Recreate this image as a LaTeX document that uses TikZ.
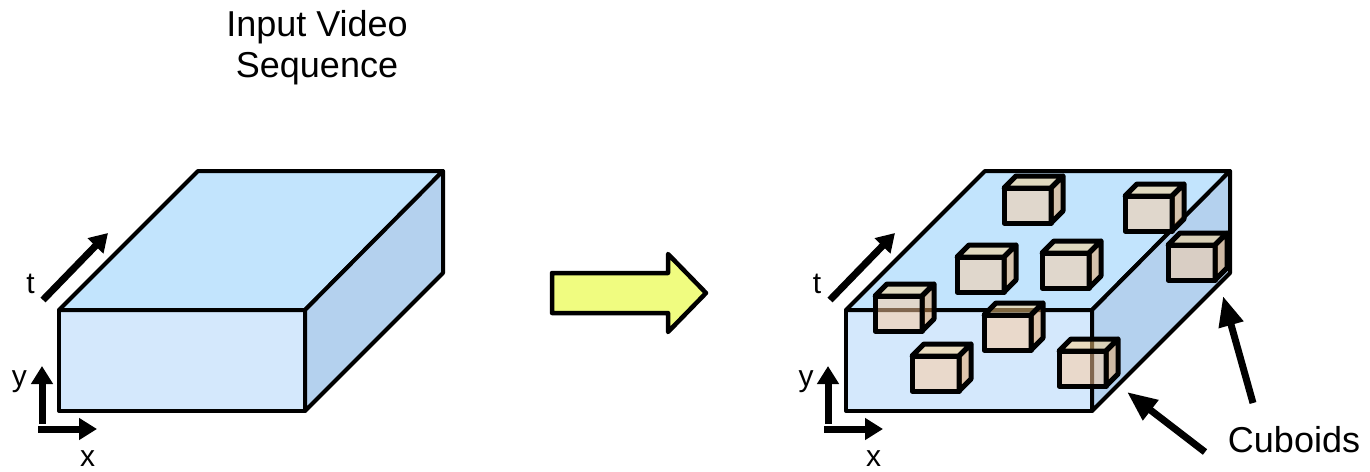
\documentclass[tikz,border=0pt]{standalone}
\usepackage{fontspec}
\setmainfont{Liberation Sans}
\usetikzlibrary{arrows.meta}

\definecolor{topblue}{RGB}{194,228,253}
\definecolor{frontblue}{RGB}{212,232,252}
\definecolor{sideblue}{RGB}{180,209,238}
\definecolor{arrowyellow}{RGB}{240,252,128}
\definecolor{cubefront}{RGB}{255,204,156}
\definecolor{cubetop}{RGB}{255,208,130}
\definecolor{cubeside}{RGB}{232,162,92}

\tikzset{
  face/.style={draw=black, line width=4pt, line join=round},
  axisarrow/.style={line width=7pt, -{Triangle[length=18pt,width=21pt]}},
  calloutarrow/.style={line width=7pt, -{Triangle[length=30pt,width=24pt]}},
  axislabel/.style={inner sep=0pt, font=\fontsize{30pt}{36pt}\selectfont},
  title/.style={inner sep=0pt, align=center, font=\fontsize{36pt}{41pt}\selectfont},
  cubeface/.style={draw=black, line width=5pt, line join=round, fill opacity=0.5},
  pics/cuboid/.style={code={
    % front face, top face and right face of a small cuboid
    \path[cubeface, fill=cubefront] (0,0) rectangle (47,35);
    \path[cubeface, fill=cubetop] (0,0) -- (12,-12) -- (59,-12) -- (47,0) -- cycle;
    \path[cubeface, fill=cubeside] (47,0) -- (59,-12) -- (59,23) -- (47,35) -- cycle;
  }}
}

\begin{document}
\begin{tikzpicture}[x=1pt, y=-1pt]
\path[use as bounding box] (0,0) rectangle (1370,471);

% ---------- input video volume ----------
\path[face, fill=frontblue] (59,310) rectangle (305,411);
\path[face, fill=topblue] (59,310) -- (198,171) -- (443,171) -- (305,310) -- cycle;
\path[face, fill=sideblue] (305,310) -- (443,171) -- (443,273) -- (305,411) -- cycle;

\node[title, anchor=base] (inputlabel) at (317,77) {Input Video\\Sequence};

% axes of the input volume
\coordinate (tA0) at (43,300);   \coordinate (tA1) at (108,233);
\coordinate (yA0) at (42,424);   \coordinate (yA1) at (42,366);
\coordinate (xA0) at (38,429);   \coordinate (xA1) at (97,429);
\draw[axisarrow] (tA0) -- (tA1);
\draw[axisarrow] (yA0) -- (yA1);
\draw[axisarrow] (xA0) -- (xA1);
\node[axislabel] (tlabA) at (30.5,284) {t};
\node[axislabel] (ylabA) at (19.5,382) {y};
\node[axislabel] (xlabA) at (87.5,459) {x};

% ---------- transition arrow ----------
\path[draw=black, line width=4.5pt, line join=round, fill=arrowyellow]
  (552,273) -- (668,273) -- (668,254) -- (706,293) -- (668,332) -- (668,313) -- (552,313) -- cycle;

% ---------- volume with cuboids ----------
\path[face, fill=frontblue] (846,310) rectangle (1092,411);
\path[face, fill=topblue] (846,310) -- (985,171) -- (1230,171) -- (1092,310) -- cycle;
\path[face, fill=sideblue] (1092,310) -- (1230,171) -- (1230,273) -- (1092,411) -- cycle;

\pic at (1004,188) {cuboid};
\pic at (1125,196) {cuboid};
\pic at (957,257) {cuboid};
\pic at (1042,253) {cuboid};
\pic at (1168,245) {cuboid};
\pic at (875,296) {cuboid};
\pic at (984,315) {cuboid};
\pic at (912,356) {cuboid};
\pic at (1059,351) {cuboid};

% axes of the second volume
\coordinate (tB0) at (830,300);  \coordinate (tB1) at (895,233);
\coordinate (yB0) at (828,424);  \coordinate (yB1) at (828,366);
\coordinate (xB0) at (824,429);  \coordinate (xB1) at (883,429);
\draw[axisarrow] (tB0) -- (tB1);
\draw[axisarrow] (yB0) -- (yB1);
\draw[axisarrow] (xB0) -- (xB1);
\node[axislabel] (tlabB) at (817,284) {t};
\node[axislabel] (ylabB) at (806,382) {y};
\node[axislabel] (xlabB) at (873.5,459) {x};

% callout
\node[title, anchor=base] (cuboidlabel) at (1294,452) {Cuboids};
\coordinate (cA0) at (1205,452); \coordinate (cA1) at (1127,392);
\coordinate (cB0) at (1253,403); \coordinate (cB1) at (1223,296);
\draw[calloutarrow] (cA0) -- (cA1);
\draw[calloutarrow] (cB0) -- (cB1);
\end{tikzpicture}
\end{document}
